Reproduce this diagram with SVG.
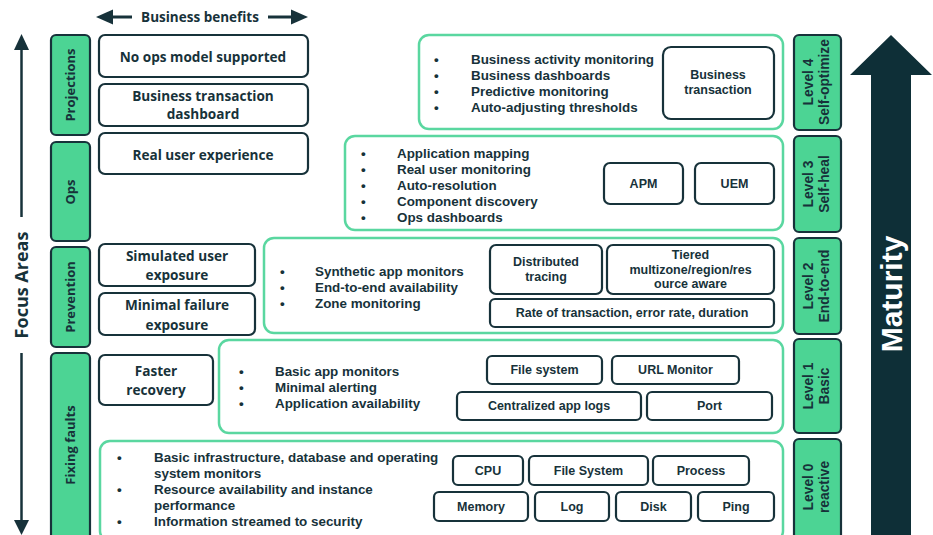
<svg xmlns="http://www.w3.org/2000/svg" width="933" height="535" viewBox="0 0 933 535">
<defs>
<style>
.t{font-family:"Liberation Sans",Arial,sans-serif;font-weight:bold;fill:#17323a}
.o{font-family:"Open Sans","Liberation Sans",sans-serif;font-weight:bold;fill:#17323a}
.wb{fill:#fff;stroke:#17323a;stroke-width:2.2}
.gb{fill:#4cd494;stroke:#17323a;stroke-width:2.2}
.pn{fill:#fff;stroke:#5ad7a0;stroke-width:2.5}
.sb{fill:#fff;stroke:#17323a;stroke-width:2.2}
.bl{font-size:13.4px}
.sm{font-size:12.5px;text-anchor:middle}
.lb{font-size:13.6px;text-anchor:middle}
.fa{font-size:13px;text-anchor:middle}
.lv{font-size:13.8px;text-anchor:middle}
</style>
</defs>
<rect width="933" height="535" fill="#fff"/>

<!-- axes -->
<g id="business-benefits">
<path d="M96,17 L113,9.5 L113,24.5 z" fill="#17323a"/>
<line x1="110" y1="17" x2="132" y2="17" stroke="#17323a" stroke-width="3"/>
<path d="M308,17 L291,9.5 L291,24.5 z" fill="#17323a"/>
<line x1="268" y1="17" x2="294" y2="17" stroke="#17323a" stroke-width="3"/>
<text class="o" x="200" y="22" font-size="13.5" text-anchor="middle">Business benefits</text>
</g>
<g id="focus-areas">
<path d="M21.5,34 L14,50 L29,50 z" fill="#17323a"/>
<line x1="21.5" y1="48" x2="21.5" y2="217" stroke="#17323a" stroke-width="2.5"/>
<line x1="21.5" y1="353" x2="21.5" y2="522" stroke="#17323a" stroke-width="2.5"/>
<path d="M21.5,535 L14,520 L29,520 z" fill="#17323a"/>
<text class="o" transform="translate(28,285) rotate(-90)" font-size="18" text-anchor="middle">Focus Areas</text>
</g>
<g id="maturity">
<path d="M891,35 L850,75 L871,75 L871,540 L911,540 L911,75 L932,75 z" fill="#0e2f37"/>
<text class="t" transform="translate(902,294) rotate(-90)" font-size="30" text-anchor="middle" style="fill:#fff">Maturity</text>
</g>

<!-- focus area boxes -->
<g id="fa-projections"><rect class="gb" x="51" y="35" width="39" height="100" rx="5"/><text class="o fa" transform="translate(75,85) rotate(-90)">Projections</text></g>
<g id="fa-ops"><rect class="gb" x="51" y="142" width="39" height="99" rx="5"/><text class="o fa" transform="translate(75,192) rotate(-90)">Ops</text></g>
<g id="fa-prevention"><rect class="gb" x="51" y="247" width="39" height="100" rx="5"/><text class="o fa" transform="translate(75,297) rotate(-90)">Prevention</text></g>
<g id="fa-fixing"><rect class="gb" x="51" y="353" width="39" height="190" rx="5"/><text class="o fa" transform="translate(75,445) rotate(-90)">Fixing faults</text></g>

<!-- business benefit boxes -->
<g id="bb-noops"><rect class="wb" x="99" y="35" width="209" height="42" rx="6"/><text class="o lb" x="203" y="62">No ops model supported</text></g>
<g id="bb-btd"><rect class="wb" x="99" y="84" width="209" height="42" rx="6"/><text class="o lb" x="203" y="101">Business transaction</text><text class="o lb" x="203" y="119">dashboard</text></g>
<g id="bb-rue"><rect class="wb" x="99" y="133" width="209" height="41" rx="6"/><text class="o lb" x="203" y="160">Real user experience</text></g>
<g id="bb-sim"><rect class="wb" x="99" y="244" width="156" height="42" rx="6"/><text class="o lb" x="177" y="261">Simulated user</text><text class="o lb" x="177" y="280">exposure</text></g>
<g id="bb-min"><rect class="wb" x="99" y="293" width="156" height="42" rx="6"/><text class="o lb" x="177" y="310">Minimal failure</text><text class="o lb" x="177" y="330">exposure</text></g>
<g id="bb-faster"><rect class="wb" x="99" y="355" width="114" height="50" rx="6"/><text class="o lb" x="156" y="376">Faster</text><text class="o lb" x="156" y="395">recovery</text></g>

<!-- Level 4 panel -->
<g id="panel-l4">
<rect class="pn" x="419" y="35" width="364" height="94" rx="10"/>
<g class="t bl">
<text x="434" y="64">•</text><text x="471" y="64">Business activity monitoring</text>
<text x="434" y="80">•</text><text x="471" y="80">Business dashboards</text>
<text x="434" y="96">•</text><text x="471" y="96">Predictive monitoring</text>
<text x="434" y="112">•</text><text x="471" y="112">Auto-adjusting thresholds</text>
</g>
<rect class="sb" x="663" y="47" width="111" height="72" rx="8"/>
<text class="t sm" x="718" y="79">Business</text><text class="t sm" x="718" y="94">transaction</text>
</g>

<!-- Level 3 panel -->
<g id="panel-l3">
<rect class="pn" x="345" y="136" width="438" height="94" rx="10"/>
<g class="t bl">
<text x="361" y="158">•</text><text x="397" y="158">Application mapping</text>
<text x="361" y="174">•</text><text x="397" y="174">Real user monitoring</text>
<text x="361" y="190">•</text><text x="397" y="190">Auto-resolution</text>
<text x="361" y="206">•</text><text x="397" y="206">Component discovery</text>
<text x="361" y="222">•</text><text x="397" y="222">Ops dashboards</text>
</g>
<rect class="sb" x="604" y="163" width="79" height="41" rx="6"/><text class="t sm" x="643.5" y="188">APM</text>
<rect class="sb" x="695" y="163" width="79" height="41" rx="6"/><text class="t sm" x="734.5" y="188">UEM</text>
</g>

<!-- Level 2 panel -->
<g id="panel-l2">
<rect class="pn" x="264" y="238" width="519" height="95" rx="10"/>
<g class="t bl">
<text x="280" y="276">•</text><text x="315" y="276">Synthetic app monitors</text>
<text x="280" y="292">•</text><text x="315" y="292">End-to-end availability</text>
<text x="280" y="308">•</text><text x="315" y="308">Zone monitoring</text>
</g>
<rect class="sb" x="490" y="245" width="112" height="49" rx="6"/><text class="t sm" x="546" y="266">Distributed</text><text class="t sm" x="546" y="281">tracing</text>
<rect class="sb" x="607" y="245" width="167" height="49" rx="6"/><text class="t sm" x="690.5" y="259">Tiered</text><text class="t sm" x="690.5" y="274">multizone/region/res</text><text class="t sm" x="690.5" y="288">ource aware</text>
<rect class="sb" x="490" y="299" width="284" height="28" rx="5"/><text class="t sm" x="632" y="317">Rate of transaction, error rate, duration</text>
</g>

<!-- Level 1 panel -->
<g id="panel-l1">
<rect class="pn" x="219" y="340" width="564" height="93" rx="10"/>
<g class="t bl">
<text x="239" y="376">•</text><text x="275" y="376">Basic app monitors</text>
<text x="239" y="392">•</text><text x="275" y="392">Minimal alerting</text>
<text x="239" y="408">•</text><text x="275" y="408">Application availability</text>
</g>
<rect class="sb" x="487" y="356" width="115" height="28" rx="5"/><text class="t sm" x="544.5" y="374">File system</text>
<rect class="sb" x="612" y="356" width="127" height="28" rx="5"/><text class="t sm" x="675.5" y="374">URL Monitor</text>
<rect class="sb" x="457" y="392" width="184" height="28" rx="5"/><text class="t sm" x="549" y="410">Centralized app logs</text>
<rect class="sb" x="647" y="392" width="125" height="28" rx="5"/><text class="t sm" x="709.5" y="410">Port</text>
</g>

<!-- Level 0 panel -->
<g id="panel-l0">
<rect class="pn" x="100" y="441" width="683" height="100" rx="10"/>
<g class="t bl">
<text x="117" y="462">•</text><text x="154" y="462">Basic infrastructure, database and operating</text>
<text x="154" y="478">system monitors</text>
<text x="117" y="494">•</text><text x="154" y="494">Resource availability and instance</text>
<text x="154" y="510">performance</text>
<text x="117" y="526">•</text><text x="154" y="526">Information streamed to security</text>
</g>
<rect class="sb" x="453" y="456" width="70" height="29" rx="5"/><text class="t sm" x="488" y="475">CPU</text>
<rect class="sb" x="529" y="456" width="119" height="29" rx="5"/><text class="t sm" x="588.5" y="475">File System</text>
<rect class="sb" x="653" y="456" width="96" height="29" rx="5"/><text class="t sm" x="701" y="475">Process</text>
<rect class="sb" x="434" y="492" width="94" height="29" rx="5"/><text class="t sm" x="481" y="511">Memory</text>
<rect class="sb" x="535" y="492" width="74" height="29" rx="5"/><text class="t sm" x="572" y="511">Log</text>
<rect class="sb" x="616" y="492" width="75" height="29" rx="5"/><text class="t sm" x="653.5" y="511">Disk</text>
<rect class="sb" x="698" y="492" width="76" height="29" rx="5"/><text class="t sm" x="736" y="511">Ping</text>
</g>

<!-- level boxes -->
<g id="level4"><rect class="gb" x="794" y="35" width="47" height="95" rx="5"/><text class="t lv" transform="translate(813,82) rotate(-90)">Level 4</text><text class="t lv" transform="translate(829,82) rotate(-90)">Self-optimize</text></g>
<g id="level3"><rect class="gb" x="794" y="136" width="47" height="96" rx="5"/><text class="t lv" transform="translate(813,184) rotate(-90)">Level 3</text><text class="t lv" transform="translate(829,184) rotate(-90)">Self-heal</text></g>
<g id="level2"><rect class="gb" x="794" y="238" width="47" height="96" rx="5"/><text class="t lv" transform="translate(813,286) rotate(-90)">Level 2</text><text class="t lv" transform="translate(829,286) rotate(-90)">End-to-end</text></g>
<g id="level1"><rect class="gb" x="794" y="339" width="47" height="94" rx="5"/><text class="t lv" transform="translate(813,386) rotate(-90)">Level 1</text><text class="t lv" transform="translate(829,386) rotate(-90)">Basic</text></g>
<g id="level0"><rect class="gb" x="794" y="439" width="47" height="102" rx="5"/><text class="t lv" transform="translate(813,487) rotate(-90)">Level 0</text><text class="t lv" transform="translate(829,487) rotate(-90)">reactive</text></g>
</svg>
